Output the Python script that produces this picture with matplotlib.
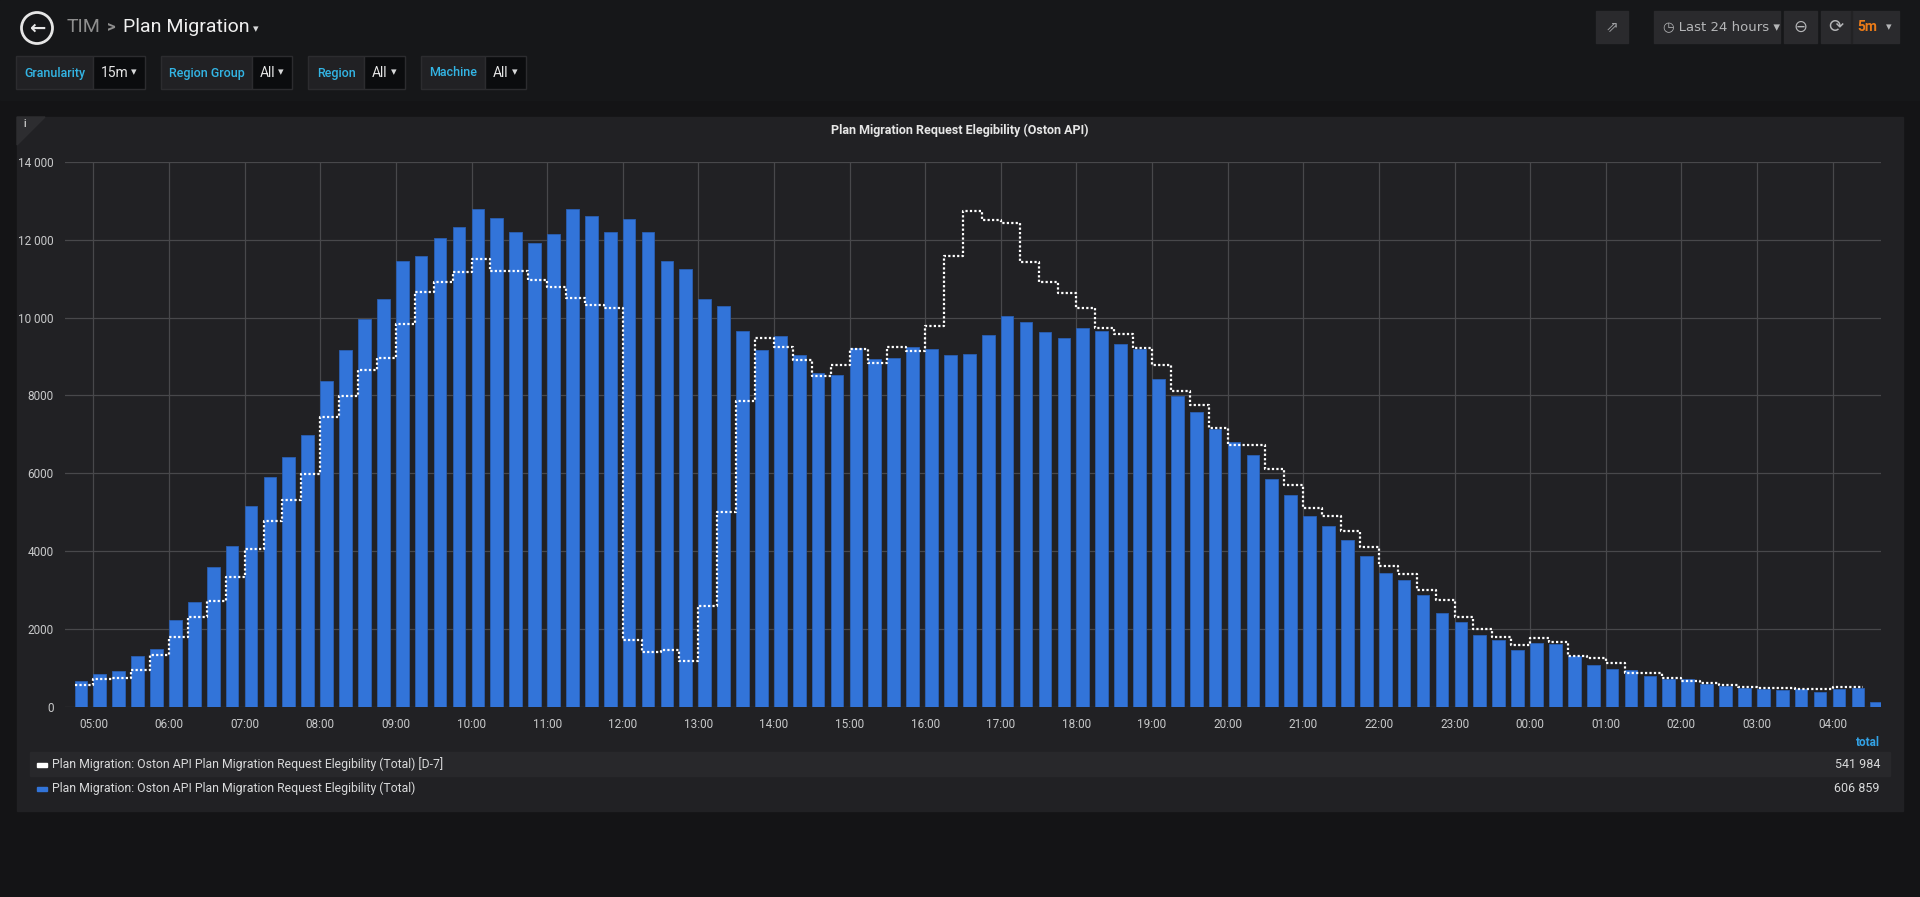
import matplotlib
matplotlib.use("Agg")
import matplotlib.pyplot as plt
from matplotlib.patches import Rectangle, Circle
import numpy as np

# ---------------- data ----------------
start_hour = 4.75          # first bucket 04:45
bucket_h = 0.25            # 15 minutes
total_values = [660, 835, 925, 1305, 1495, 2230, 2700, 3605, 4125, 5157, 5894, 6424, 6975,
                8370, 9155, 9970, 10470, 11450, 11590, 12040, 12320, 12790, 12560, 12210, 11915,
                12140, 12780, 12600, 12210, 12530, 12210, 11450, 11240, 10470, 10285, 9656, 9165,
                9519, 9047, 8566, 8536, 9214, 8939, 8969, 9244, 9185, 9037, 9067, 9558, 10049,
                9892, 9627, 9470, 9735, 9656, 9312, 9204, 8418, 7996, 7564, 7132, 6817, 6483,
                5855, 5442, 4912, 4637, 4293, 3870, 3438, 3251, 2868, 2416, 2180, 1847, 1719,
                1454, 1650, 1630, 1297, 1080, 963, 953, 796, 707, 727, 600, 540, 491, 472, 442,
                452, 383, 452, 491, 128]
d7_values = [570, 727, 756, 943, 1326, 1788, 2308, 2721, 3340, 4057, 4764, 5314, 5992, 7456,
             7996, 8664, 8959, 9833, 10658, 10904, 11179, 11503, 11198, 11198, 10953, 10786,
             10511, 10314, 10236, 1719, 1424, 1464, 1169, 2593, 5010, 7868, 9479, 9244, 8900,
             8507, 8792, 9194, 8831, 9253, 9145, 9784, 11591, 12741, 12505, 12436, 11434, 10913,
             10629, 10255, 9725, 9578, 9214, 8782, 8124, 7750, 7171, 6729, 6729, 6120, 5688,
             5118, 4902, 4519, 4106, 3615, 3428, 3006, 2750, 2308, 1994, 1807, 1582, 1768, 1660,
             1316, 1257, 1120, 884, 874, 737, 668, 609, 560, 501, 491, 481, 462, 452, 501, 501]
tick_hours = list(range(5, 29))
tick_labels = ["%02d:00" % (h % 24) for h in tick_hours]
y_ticks = [0, 2000, 4000, 6000, 8000, 10000, 12000, 14000]
y_tick_labels = ["0", "2000", "4000", "6000", "8000", "10 000", "12 000", "14 000"]
legend_names = ["Plan Migration: Oston API Plan Migration Request Elegibility (Total) [D-7]",
                "Plan Migration: Oston API Plan Migration Request Elegibility (Total)"]
legend_totals = ["541 984", "606 859"]
legend_colors = ["#ffffff", "#3274d9"]
title = "Plan Migration Request Elegibility (Oston API)"

# ---------------- figure ----------------
W, H = 1920, 897
fig = plt.figure(figsize=(W / 100, H / 100), dpi=100)
fig.patch.set_facecolor("#141416")
plt.rcParams['font.family'] = ['Roboto', 'DejaVu Sans']

bg = fig.add_axes([0, 0, 1, 1])
bg.set_xlim(0, W); bg.set_ylim(H, 0); bg.axis("off")
bg.add_patch(Rectangle((0, 0), W, 100, color="#161719", zorder=0))

# header
bg.add_patch(Circle((37, 28), 15.5, fill=False, ec="#e6e6e6", lw=2))
bg.text(37, 28.5, "←", color="#e6e6e6", fontsize=14, ha="center", va="center", fontweight="bold",
        family=['DejaVu Sans'])
bg.text(67, 27, "TIM", color="#8e8e8e", fontsize=14, va="center")
bg.text(107, 27, ">", color="#8e8e8e", fontsize=12, va="center", fontweight="bold")
bg.text(123, 27, "Plan Migration", color="#f0f0f0", fontsize=14, va="center")
bg.text(253, 29, "▾", color="#d8d9da", fontsize=8, va="center", family=['DejaVu Sans'])

boxes = [("Granularity", "15m", 16, 93, 145), ("Region Group", "All", 161, 252, 292),
         ("Region", "All", 308, 364, 405), ("Machine", "All", 421, 485, 526)]
for lab, val, x0, x1, x2 in boxes:
    bg.add_patch(Rectangle((x0, 56), x1 - x0, 33, color="#212124", ec="#2c2c2f"))
    bg.add_patch(Rectangle((x1, 56), x2 - x1, 33, color="#0b0c0e", ec="#2c2c2f"))
    bg.text((x0 + x1) / 2, 73, lab, color="#33b5e5", fontsize=9, ha="center", va="center",
            fontweight="medium")
    bg.text(x1 + 8, 73, val, color="#e6e6e6", fontsize=10, va="center")
    bg.text(x2 - 8, 72, "▾", color="#d8d9da", fontsize=8, ha="right", va="center",
            family=['DejaVu Sans'])

btn = "#2a2a2d"
for x0, x1 in [(1596, 1628), (1654, 1780), (1784, 1817), (1821, 1899)]:
    bg.add_patch(Rectangle((x0, 11), x1 - x0, 32, color=btn))
bg.add_patch(Rectangle((1851, 11), 1, 32, color="#222224"))
bg.text(1612, 27, "⇗", color="#9fa0a3", fontsize=11, ha="center", va="center", family=['DejaVu Sans'])
bg.text(1663, 27, "◷ Last 24 hours ▾", color="#b5b6b8", fontsize=9.5, va="center",
        family=['DejaVu Sans'])
bg.text(1800, 27, "⊖", color="#b5b6b8", fontsize=12, ha="center", va="center", family=['DejaVu Sans'])
bg.text(1836, 27, "⟳", color="#b5b6b8", fontsize=13, ha="center", va="center", family=['DejaVu Sans'])
bg.text(1857, 27, "5m", color="#eb7b18", fontsize=10, va="center", fontweight="bold")
bg.text(1892, 27, "▾", color="#b5b6b8", fontsize=8, ha="right", va="center", family=['DejaVu Sans'])

# panel
bg.add_patch(Rectangle((17, 117), 1886, 694, color="#212124", zorder=0.5))
bg.add_patch(plt.Polygon([(17, 117), (45, 117), (17, 145)], color="#2d2d30", zorder=0.6))
bg.text(23, 124, "i", color="#c0c0c0", fontsize=7, va="center", fontweight="bold")
bg.text(960, 130, title, color="#e6e6e6", fontsize=9, ha="center", va="center", fontweight="bold")

# legend
bg.add_patch(Rectangle((30, 752), 1860, 24, color="#28282b", zorder=0.7))
bg.text(1880, 742, "total", color="#33a2e5", fontsize=8.5, ha="right", va="center", fontweight="bold")
for i, (nm, tot, c) in enumerate(zip(legend_names, legend_totals, legend_colors)):
    y = 764 + i * 24
    bg.add_patch(Rectangle((37, y - 1), 10, 4, color=c, zorder=1))
    bg.text(52, y, nm, color="#d8d9da", fontsize=8.8, va="center")
    bg.text(1880, y, tot, color="#d8d9da", fontsize=9, ha="right", va="center")

# ---------------- chart ----------------
L, R, B, T = 64.7, 1881, 707, 161.8
ax = fig.add_axes([L / W, 1 - B / H, (R - L) / W, (B - T) / H])
ax.set_facecolor("none")
x_bars = start_hour + bucket_h * np.arange(len(total_values))
ax.bar(x_bars, total_values, width=bucket_h * 0.67, align="edge", color="#3274d9",
       edgecolor="#2a5fb3", linewidth=0.6, zorder=2)
x_d7 = start_hour + bucket_h * np.arange(len(d7_values))
ax.step(np.append(x_d7, x_d7[-1] + bucket_h * 0.6), np.append(d7_values, d7_values[-1]),
        where="post", color="white", lw=1.6, linestyle=(0, (1, 1)), zorder=3)
ax.set_xlim(4.62, 28.64)
ax.set_ylim(0, 14000)
ax.set_xticks(tick_hours)
ax.set_xticklabels(tick_labels)
ax.set_yticks(y_ticks)
ax.set_yticklabels(y_tick_labels)
ax.grid(True, color="#48484b", lw=0.9, zorder=0)
ax.tick_params(colors="#c8c9ca", labelsize=8.5, length=0, pad=8)
for s in ax.spines.values():
    s.set_visible(False)

fig.savefig("out.png", dpi=100, facecolor=fig.get_facecolor())
